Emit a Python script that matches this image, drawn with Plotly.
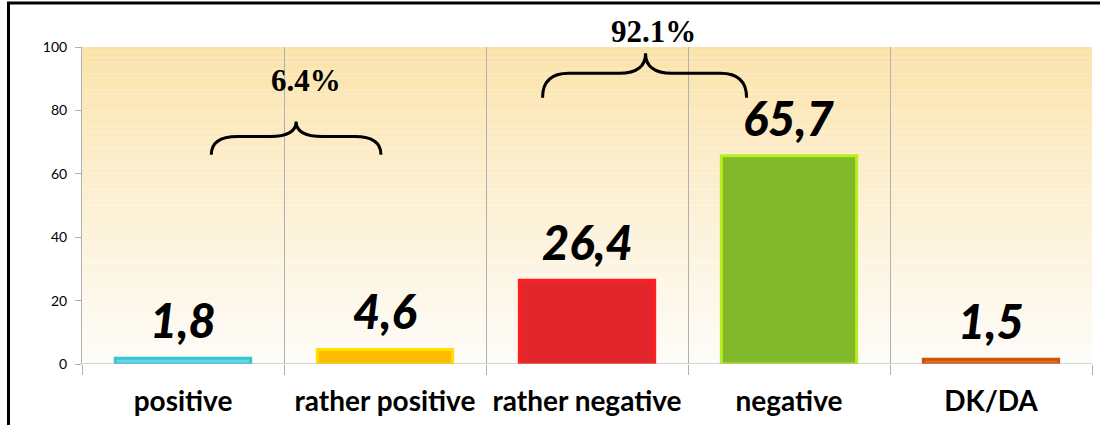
import plotly.graph_objects as go

categories = ["positive", "rather positive", "rather negative", "negative", "DK/DA"]
values = [1.8, 4.6, 26.4, 65.7, 1.5]
value_labels = ["1,8", "4,6", "26,4", "65,7", "1,5"]
bar_fill = ["#5fdcea", "#ffbb00", "#e3262b", "#82b92a", "#f26a12"]
bar_edge = ["#3cc3d3", "#ffe000", "#ff1f1f", "#b8ee1c", "#c9560c"]
y_ticks = [0, 20, 40, 60, 80, 100]

group_labels = ["6.4%", "92.1%"]
group_spans = [(0.14, 0.98, 0.56), (1.78, 2.79, 2.29)]  # x-left, x-right, x-tip (category index units)
group_ylevels = [(66, 76.5), (84, 98)]  # y-ends, y-tip
group_text_pos = [(0.61, 0.895), (2.33, 1.05)]  # x (index units), y (paper)

x_idx = list(range(len(categories)))

fig = go.Figure()
fig.add_trace(go.Bar(
    x=x_idx, y=values, width=0.67,
    marker=dict(color=bar_fill, line=dict(color=bar_edge, width=3)),
    hoverinfo="skip", showlegend=False,
))

# background gradient bands inside the plot area
top = (251, 226, 168)
bot = (254, 252, 248)
n = 60
shapes = []
for i in range(n):
    t = i / (n - 1)
    c = tuple(int(round(top[k] + (bot[k] - top[k]) * (t ** 0.85))) for k in range(3))
    shapes.append(dict(type="rect", xref="x domain", yref="y domain",
                       x0=0, x1=1, y0=1 - (i + 1) / n, y1=1 - i / n,
                       fillcolor="rgb(%d,%d,%d)" % c, line=dict(width=0), layer="below"))

# braces
for (xl, xr, xt), (ye, yt) in zip(group_spans, group_ylevels):
    ym = ye + (yt - ye) * 0.55
    r = 0.13
    path = (f"M {xl},{ye} Q {xl},{ym} {xl + r},{ym} L {xt - r},{ym} "
            f"Q {xt},{ym} {xt},{yt} Q {xt},{ym} {xt + r},{ym} "
            f"L {xr - r},{ym} Q {xr},{ym} {xr},{ye}")
    shapes.append(dict(type="path", path=path, xref="x", yref="y",
                       line=dict(color="black", width=3), layer="above"))

# frame
shapes.append(dict(type="rect", xref="paper", yref="paper",
                   x0=-0.0728, x1=1.02, y0=-0.3, y1=1.139,
                   line=dict(color="black", width=3), fillcolor="rgba(0,0,0,0)", layer="above"))

annotations = []
for xi, v, lab in zip(x_idx, values, value_labels):
    annotations.append(dict(x=xi, y=v, xref="x", yref="y", text=lab, showarrow=False,
                            yanchor="bottom", yshift=8,
                            font=dict(family="Lato", size=47, color="black", weight=900, style="italic")))
for (gx, gy), g in zip(group_text_pos, group_labels):
    annotations.append(dict(x=gx, y=gy, xref="x", yref="paper", text=g, showarrow=False,
                            yanchor="middle",
                            font=dict(family="Liberation Serif", size=31, color="black", weight="bold")))

fig.update_layout(
    width=1100, height=425,
    margin=dict(l=82, r=8, t=47, b=61),
    paper_bgcolor="white", plot_bgcolor="white",
    shapes=shapes, annotations=annotations,
    xaxis=dict(
        range=[-0.5, 4.5], tickvals=x_idx, ticktext=categories,
        ticks="", showgrid=False, zeroline=False, showline=False,
        tickfont=dict(family="Lato", size=28, color="black", weight="bold"),
        minor=dict(tick0=0.5, dtick=1, showgrid=True, gridcolor="#b0b0b0", gridwidth=1,
                   ticks="outside", ticklen=10, tickcolor="#b0b0b0"),
        ticklabelstandoff=18,
    ),
    yaxis=dict(
        range=[0, 100], tickvals=y_ticks, showgrid=False, zeroline=False,
        showline=True, linecolor="#b0b0b0", linewidth=1,
        ticks="outside", ticklen=6, tickcolor="#b0b0b0",
        tickfont=dict(family="Lato", size=14, color="black"),
        ticklabelstandoff=5,
    ),
)
fig.add_hline(y=0, line=dict(color="#b0b0b0", width=1), layer="above")

fig.write_html("out.html", config={"displayModeBar": False},
               post_script="document.body.style.margin='0';")
